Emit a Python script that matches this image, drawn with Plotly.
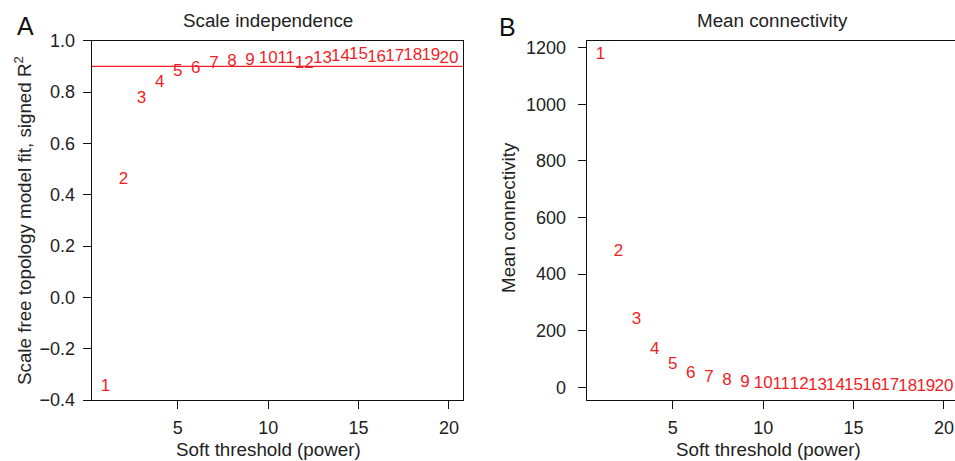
import plotly.graph_objects as go

# ---- data ----
powers = list(range(1, 21))
sft_r2 = [-0.35, 0.457, 0.772, 0.836, 0.879, 0.892, 0.909, 0.916, 0.921, 0.928,
          0.931, 0.912, 0.928, 0.938, 0.944, 0.935, 0.938, 0.942, 0.942, 0.931]
mean_k = [1177, 479, 238, 132, 79, 47, 32, 22, 16, 11.5,
          8.5, 7.5, 6.5, 5.5, 5, 4.5, 4, 3.5, 3, 2.5]
r2_cut = 0.9
x_ticks = [5, 10, 15, 20]
y_ticks_a = [-0.4, -0.2, 0.0, 0.2, 0.4, 0.6, 0.8, 1.0]
y_ticks_b = [0, 200, 400, 600, 800, 1000, 1200]

W, H = 955, 461
FONT = "Liberation Sans, Arial, Helvetica, sans-serif"
RED = "#f01e26"

def px(x):
    return x / W

def py(y):
    return 1 - y / H

fig = go.Figure()
fig.add_trace(go.Scatter(x=powers, y=sft_r2, mode="text", text=[str(p) for p in powers],
                         textposition="middle center",
                         textfont=dict(family=FONT, size=17, color=RED),
                         xaxis="x", yaxis="y", showlegend=False, hoverinfo="skip"))
fig.add_trace(go.Scatter(x=powers, y=mean_k, mode="text", text=[str(p) for p in powers],
                         textposition="middle center",
                         textfont=dict(family=FONT, size=17, color=RED),
                         xaxis="x2", yaxis="y2", showlegend=False, hoverinfo="skip"))

axis_common = dict(showgrid=False, zeroline=False, showline=True, mirror=True,
                   linecolor="#111111", linewidth=1, ticks="outside", ticklen=8,
                   tickcolor="#111111", tickwidth=1, automargin=False,
                   tickfont=dict(family=FONT, size=18, color="#222222"))

ydom = [py(400), py(40.7)]
fig.update_layout(
    width=W, height=H, autosize=False, margin=dict(l=0, r=0, t=0, b=0, pad=0),
    paper_bgcolor="white", plot_bgcolor="white",
    xaxis=dict(domain=[px(91.7), px(462.7)], range=[0.24, 20.76], tickvals=x_ticks,
               anchor="y", ticklabelstandoff=3, **axis_common),
    yaxis=dict(domain=ydom, range=[-0.4, 1.0], tickvals=y_ticks_a, tickformat=".1f",
               anchor="x", ticklabelstandoff=4, **axis_common),
    xaxis2=dict(domain=[px(586.7), 1.0], range=[0.24, 20.61], tickvals=x_ticks,
                anchor="y2", ticklabelstandoff=3, **axis_common),
    yaxis2=dict(domain=ydom, range=[-45, 1225], tickvals=y_ticks_b,
                anchor="x2", ticklabelstandoff=8, **axis_common),
)

fig.add_shape(type="line", xref="x domain", yref="y", x0=0, x1=1, y0=r2_cut, y1=r2_cut,
              line=dict(color=RED, width=1.2))

def ann(text, x, y, size=18.8, angle=0, color="#222222"):
    fig.add_annotation(text=text, x=px(x), y=py(y), xref="paper", yref="paper",
                       showarrow=False, xanchor="center", yanchor="middle",
                       textangle=angle, font=dict(family=FONT, size=size, color=color))

ann("Scale independence", 268.3, 20)
ann("Mean connectivity", 772.8, 20)
ann("Soft threshold (power)", 268.3, 449)
ann("Soft threshold (power)", 768.3, 449)
ann("Scale free topology model fit, signed R<sup>2</sup>", 23, 221, angle=-90)
ann("Mean connectivity", 508, 217, angle=-90)
ann("A", 25, 26, size=25, color="#111111")
ann("B", 508, 27, size=25, color="#111111")

fig.write_html("out.html")
